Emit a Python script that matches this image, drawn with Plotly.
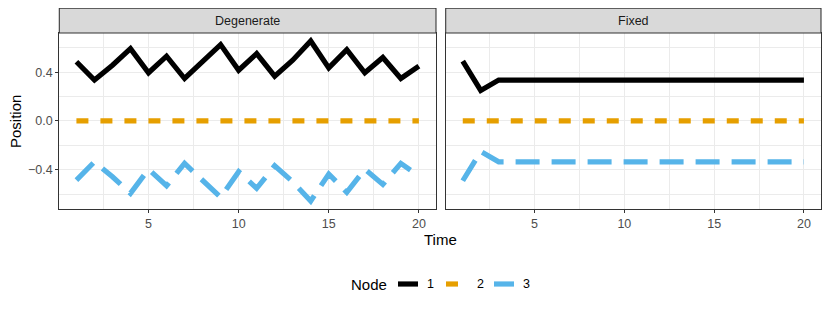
import plotly.graph_objects as go

time = list(range(1, 21))
panels = ["Degenerate", "Fixed"]
nodes = ["1", "2", "3"]

deg_node1 = [0.485, 0.335, 0.457, 0.593, 0.395, 0.531, 0.348, 0.484, 0.626, 0.416,
             0.552, 0.367, 0.498, 0.656, 0.435, 0.585, 0.395, 0.520, 0.348, 0.449]
deg_node2 = [0.0] * 20
deg_node3 = [-0.485, -0.335, -0.457, -0.593, -0.395, -0.531, -0.348, -0.484, -0.626, -0.416,
             -0.552, -0.367, -0.498, -0.656, -0.435, -0.585, -0.395, -0.520, -0.348, -0.449]

fix_node1 = [0.49, 0.25] + [0.335] * 18
fix_node2 = [0.0] * 20
fix_node3 = [-0.49, -0.25] + [-0.335] * 18

colors = ["#000000", "#E69F00", "#56B4E9"]
dashes = ["solid", "12px,12px", "24px,12px"]
LW = 5.2

W, H = 830, 312
OFF = 8  # default page body margin
def px(x):
    return (x - OFF) / W
def py(y):
    return 1 - (y - OFF) / H

dom1 = [px(59.3), px(436)]
dom2 = [px(445.7), px(821)]
ydom = [py(209.3), py(33)]
strip_top = py(8.3)

fig = go.Figure()
data = [(deg_node1, deg_node2, deg_node3), (fix_node1, fix_node2, fix_node3)]
for p, series in enumerate(data):
    xa = "x" if p == 0 else "x2"
    ya = "y" if p == 0 else "y2"
    for i, vals in enumerate(series):
        fig.add_trace(go.Scatter(x=time, y=vals, mode="lines", xaxis=xa, yaxis=ya,
                                 line=dict(color=colors[i], width=LW, dash=dashes[i]),
                                 showlegend=False, hoverinfo="skip"))

font = "Liberation Sans, Arial, sans-serif"
SMALL = 12.5
BIG = 15
grid_major = "#EBEBEB"
xr = [0.05, 20.95]
yr = [-0.724, 0.721]

xcommon = dict(range=xr, tickvals=[5, 10, 15, 20], ticktext=["5", "10", "15", "20"],
               showgrid=True, gridcolor=grid_major, gridwidth=1.07,
               minor=dict(tickvals=[2.5, 7.5, 12.5, 17.5], showgrid=True, gridcolor=grid_major,
                          gridwidth=0.55, ticks=""),
               showline=True, mirror=True, linecolor="#333333", linewidth=1.07,
               ticks="outside", ticklen=3, tickcolor="#333333", tickwidth=1.07,
               tickfont=dict(family=font, size=SMALL, color="#4D4D4D"),
               zeroline=False, fixedrange=True)
ycommon = dict(range=yr, tickvals=[-0.4, 0.0, 0.4], ticktext=["\u22120.4", "0.0", "0.4"],
               showgrid=True, gridcolor=grid_major, gridwidth=1.07,
               minor=dict(tickvals=[-0.6, -0.2, 0.2, 0.6], showgrid=True, gridcolor=grid_major,
                          gridwidth=0.55, ticks=""),
               showline=True, mirror=True, linecolor="#333333", linewidth=1.07,
               tickfont=dict(family=font, size=SMALL, color="#4D4D4D"),
               zeroline=False, fixedrange=True)

fig.update_layout(
    width=W, height=H, autosize=False,
    margin=dict(l=0, r=0, t=0, b=0),
    paper_bgcolor="white", plot_bgcolor="white",
    xaxis=dict(domain=dom1, anchor="y", **xcommon),
    xaxis2=dict(domain=dom2, anchor="y2", **xcommon),
    yaxis=dict(domain=ydom, anchor="x", ticks="outside", ticklen=3, tickcolor="#333333",
               tickwidth=1.07, **ycommon),
    yaxis2=dict(domain=ydom, anchor="x2", ticks="", showticklabels=False, **ycommon),
    showlegend=False,
)

shapes = []
annotations = []
for p, dom in enumerate([dom1, dom2]):
    shapes.append(dict(type="rect", xref="paper", yref="paper", x0=dom[0], x1=dom[1],
                       y0=ydom[1], y1=strip_top, fillcolor="#D9D9D9",
                       line=dict(color="#333333", width=1.07), layer="above"))
    annotations.append(dict(xref="paper", yref="paper", x=(dom[0] + dom[1]) / 2,
                            y=(ydom[1] + strip_top) / 2, text=panels[p], showarrow=False,
                            xanchor="center", yanchor="middle",
                            font=dict(family=font, size=SMALL, color="#1A1A1A")))

annotations.append(dict(xref="paper", yref="paper", x=px(440), y=py(239), text="Time",
                        showarrow=False, xanchor="center", yanchor="middle",
                        font=dict(family=font, size=BIG, color="black")))
annotations.append(dict(xref="paper", yref="paper", x=px(15), y=py(122), text="Position",
                        textangle=-90, showarrow=False, xanchor="center", yanchor="middle",
                        font=dict(family=font, size=BIG, color="black")))

# legend
ly = py(284)
annotations.append(dict(xref="paper", yref="paper", x=px(369), y=ly, text="Node",
                        showarrow=False, xanchor="center", yanchor="middle",
                        font=dict(family=font, size=BIG, color="black")))
key_x = [398, 446, 494]
lab_x = [431, 480, 526]
for i in range(3):
    shapes.append(dict(type="line", xref="paper", yref="paper",
                       x0=px(key_x[i]), x1=px(key_x[i] + 20), y0=ly, y1=ly,
                       line=dict(color=colors[i], width=LW, dash=dashes[i])))
    annotations.append(dict(xref="paper", yref="paper", x=px(lab_x[i]), y=ly, text=nodes[i],
                            showarrow=False, xanchor="center", yanchor="middle",
                            font=dict(family=font, size=SMALL, color="black")))

fig.update_layout(shapes=shapes, annotations=annotations)
fig.write_html("out.html")
